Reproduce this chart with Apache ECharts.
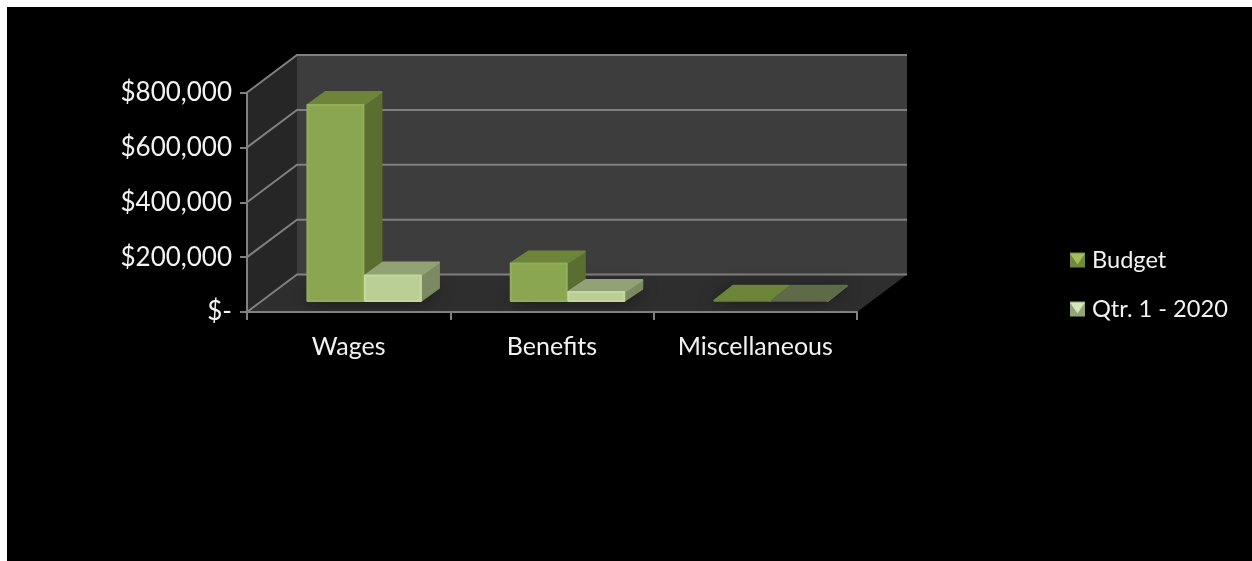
<!DOCTYPE html>
<html>
<head>
<meta charset="utf-8">
<style>
html,body{margin:0;padding:0;background:#fff;width:1252px;height:561px;overflow:hidden}
#c{position:absolute;left:7px;top:7px;width:1245px;height:554px}
</style>
<script src="https://cdn.jsdelivr.net/npm/echarts@6/dist/echarts.min.js"></script>
</head>
<body>
<div id="c"></div>
<script>
var categories = ['Wages', 'Benefits', 'Miscellaneous'];
var budget = [714000, 137000, 1000];
var qtr1 = [93000, 33000, 500];
var yTicks = [0, 200000, 400000, 600000, 800000];

var FONT = 'Lato, "Open Sans", sans-serif';
var WALL_DX = 50, WALL_DY = 37.5;
var FLOOR_DX = 15.5, FLOOR_DY = 11;
var BAR_DX = 18;
var BAR_DY = [13, 12, 15];
var BAR_W = 56, BAR_GAP = 1.5;
var GRID_COLOR = '#808080', GRID_W = 2;

function poly(points, fill, stroke, extra) {
  var s = {fill: fill};
  if (stroke) { s.stroke = stroke; s.lineWidth = 2; s.lineJoin = 'round'; }
  for (var k in (extra || {})) s[k] = extra[k];
  return {type: 'polygon', shape: {points: points}, style: s};
}
function line(points, color, w) {
  return {type: 'polyline', shape: {points: points},
    style: {fill: null, stroke: color, lineWidth: w}};
}

function renderWalls(params, api) {
  var g = params.coordSys;
  var x0 = g.x, x1 = g.x + g.width, yb = g.y + g.height, yt = g.y;
  var kids = [
    poly([[x0, yb], [x0 + WALL_DX, yb - WALL_DY], [x0 + WALL_DX, yt - WALL_DY], [x0, yt]], '#262626'),
    poly([[x0 + WALL_DX, yt - WALL_DY], [x1 + WALL_DX, yt - WALL_DY], [x1 + WALL_DX, yb - WALL_DY], [x0 + WALL_DX, yb - WALL_DY]], '#3d3d3d'),
    poly([[x0, yb], [x1, yb], [x1 + WALL_DX, yb - WALL_DY], [x0 + WALL_DX, yb - WALL_DY]], '#2e2e2e')
  ];
  yTicks.forEach(function (t) {
    var y = api.coord([0, t])[1];
    kids.push(line([[x0, y], [x0 + WALL_DX, y - WALL_DY], [x1 + WALL_DX, y - WALL_DY]], GRID_COLOR, GRID_W));
  });
  return {type: 'group', children: kids};
}

function barLeft(api, slot) {
  var c = api.coord([api.value(0), 0])[0];
  return slot === 0 ? c + FLOOR_DX - BAR_W - BAR_GAP / 2 : c + FLOOR_DX + BAR_GAP / 2;
}

function renderShadow(params, api) {
  var l = barLeft(api, 0), r = barLeft(api, 1) + BAR_W;
  var y = api.coord([0, 0])[1] - FLOOR_DY;
  return poly([[l - 2, y + 1], [r, y + 1], [r + BAR_DX + 2, y - 13], [l + BAR_DX, y - 13]],
    'rgba(26,26,26,0.7)', null, {shadowBlur: 16, shadowColor: 'rgba(10,10,10,0.9)'});
}

function barRenderer(slot, c) {
  return function (params, api) {
    var v = api.value(1);
    var l = barLeft(api, slot), r = l + BAR_W;
    var yb = api.coord([0, 0])[1] - FLOOR_DY;
    var yt = api.coord([0, v])[1] - FLOOR_DY;
    var flat = yb - yt < 2;
    var dy = BAR_DY[api.value(0)];
    var dx = flat ? BAR_DX + 1 : BAR_DX;
    var kids = [
      poly([[r, yb], [r + dx, yb - dy], [r + dx, yt - dy], [r, yt]], c.side, c.side),
      poly([[l, yt], [r, yt], [r + dx, yt - dy], [l + dx, yt - dy]], flat ? c.flat : c.top, flat ? c.flat : c.top)
    ];
    if (!flat) {
      kids.push(poly([[l, yb], [r, yb], [r, yt], [l, yt]], {
        type: 'linear', x: 0, y: 0, x2: 1, y2: 0,
        colorStops: [{offset: 0, color: c.edge}, {offset: 0.05, color: c.front},
          {offset: 0.95, color: c.front}, {offset: 1, color: c.edge}]
      }, c.edge));
    }
    return {type: 'group', children: kids};
  };
}

var budgetColors = {front: '#8aa650', edge: '#92ae58', top: '#6c8539', side: '#5b6e32', flat: '#6c8539'};
var qtrColors = {front: '#bacf94', edge: '#c3d89c', top: '#92a274', side: '#7b8a62', flat: '#5e6a48'};

function pairs(arr) { return arr.map(function (v, i) { return [i, v]; }); }
function iconBevel(x, y, color) {
  return {type: 'polygon', z: 20, silent: true,
    shape: {points: [[x, y], [x + 15, y], [x + 7.5, y + 11]]},
    style: {fill: color}};
}

var chart = echarts.init(document.getElementById('c'));
chart.setOption({
  backgroundColor: '#000',
  animation: false,
  textStyle: {fontFamily: FONT},
  legend: {
    orient: 'vertical', left: 1058, top: 236, itemWidth: 15, itemHeight: 15, itemGap: 25,
    icon: 'rect',
    textStyle: {color: '#f2f2f2', fontSize: 23.6, fontFamily: FONT, padding: [0, 0, 0, 2]},
    data: [
      {name: 'Budget', itemStyle: {color: '#6f8a3c'}},
      {name: 'Qtr. 1 - 2020', itemStyle: {color: '#93a577'}}
    ]
  },
  graphic: [iconBevel(1063, 246.5, '#a3bf5e'), iconBevel(1063, 295.5, '#d6e5bb')],
  grid: {left: 240, top: 85.5, width: 610, height: 219.5},
  xAxis: {
    type: 'category', data: categories,
    axisLine: {show: true, lineStyle: {color: GRID_COLOR, width: GRID_W}},
    axisTick: {show: true, length: 8, lineStyle: {color: GRID_COLOR, width: GRID_W}},
    axisLabel: {color: '#f2f2f2', fontSize: 25, fontFamily: FONT, margin: 22},
    z: 5
  },
  yAxis: {
    type: 'value', min: 0, max: 800000, interval: 200000,
    splitLine: {show: false},
    axisLine: {show: true, lineStyle: {color: GRID_COLOR, width: GRID_W}},
    axisTick: {show: true, length: 7, lineStyle: {color: GRID_COLOR, width: GRID_W}},
    axisLabel: {
      color: '#f2f2f2', fontSize: 26, fontFamily: FONT, margin: 15,
      formatter: function (v) { return v === 0 ? '$-' : '$' + v.toLocaleString('en-US'); }
    },
    z: 5
  },
  series: [
    {type: 'custom', name: 'walls', data: [[0, 0]], encode: {x: 0, y: 1}, renderItem: renderWalls, silent: true, z: 1, clip: false},
    {type: 'custom', name: 'shadow', data: pairs(budget), encode: {x: 0, y: 1}, renderItem: renderShadow, silent: true, z: 2, clip: false},
    {type: 'custom', name: 'Budget', data: pairs(budget), encode: {x: 0, y: 1}, renderItem: barRenderer(0, budgetColors), z: 3, clip: false, itemStyle: {color: '#8aa650'}},
    {type: 'custom', name: 'Qtr. 1 - 2020', data: pairs(qtr1), encode: {x: 0, y: 1}, renderItem: barRenderer(1, qtrColors), z: 4, clip: false, itemStyle: {color: '#bacf94'}}
  ]
});
</script>
</body>
</html>
